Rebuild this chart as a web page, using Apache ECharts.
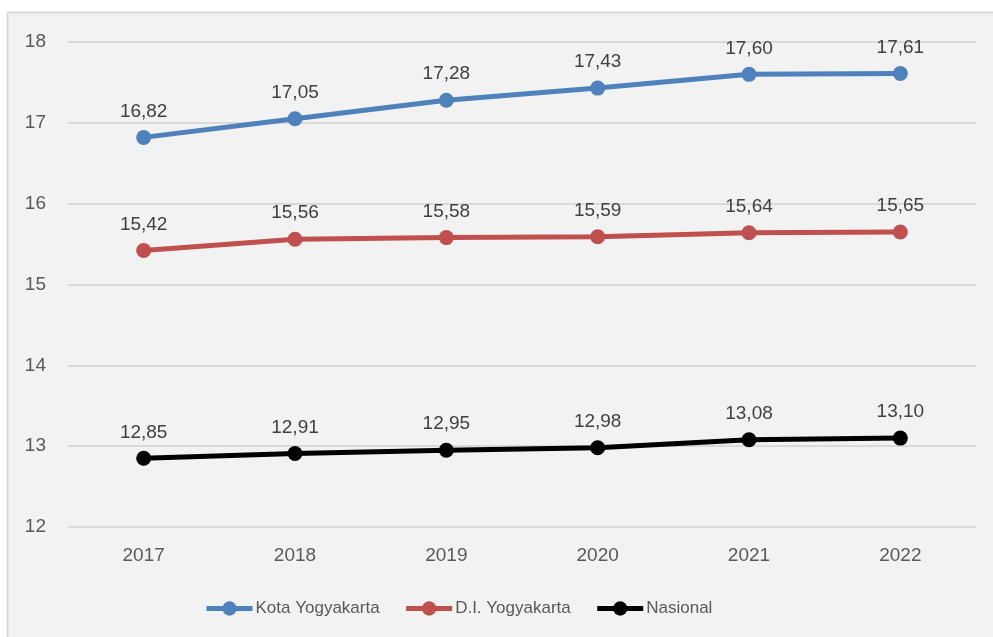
<!DOCTYPE html>
<html><head><meta charset="utf-8">
<script src="https://cdn.jsdelivr.net/npm/echarts@6/dist/echarts.min.js"></script>
<style>html,body{margin:0;padding:0;background:#fff;}#c{width:993px;height:637px;}</style>
</head><body><div id="c"></div>
<script>
const categories = ['2017','2018','2019','2020','2021','2022'];
const kota = [16.82, 17.05, 17.28, 17.43, 17.60, 17.61];
const diy = [15.42, 15.56, 15.58, 15.59, 15.64, 15.65];
const nasional = [12.85, 12.91, 12.95, 12.98, 13.08, 13.10];
const yTicks = [12, 13, 14, 15, 16, 17, 18];

const FONT = '"Liberation Sans Narrow", "Arial Narrow", "Liberation Sans", sans-serif';
const chart = echarts.init(document.getElementById('c'));
function mk(name, data, color) {
  return {
    name, type: 'line', data, color,
    symbol: 'circle', symbolSize: 15,
    lineStyle: { width: 5, color },
    itemStyle: { color },
    label: { show: true, position: 'top', distance: 9, color: '#404040', fontSize: 19, fontFamily: FONT,
      formatter: p => p.value.toFixed(2).replace('.', ',') }
  };
}
chart.setOption({
  animation: false,
  graphic: [{ type: 'rect', z: -10, shape: { x: 7.5, y: 12.5, width: 1000, height: 700 }, style: { fill: '#f2f2f2', stroke: '#d9d9d9', lineWidth: 2 } }],
  grid: { left: 68, right: 17, top: 42, bottom: 110 },
  legend: { bottom: 15, left: 199, itemWidth: 46, itemHeight: 18, itemGap: 24,
    lineStyle: { width: 5 },
    textStyle: { color: '#595959', fontSize: 17, fontFamily: FONT, padding: [0,0,0,-2] } },
  xAxis: { type: 'category', data: categories, boundaryGap: true,
    axisLine: { show: false }, axisTick: { show: false },
    axisLabel: { color: '#595959', fontSize: 19, fontFamily: FONT, margin: 19 } },
  yAxis: { type: 'value', min: yTicks[0], max: yTicks[yTicks.length-1], interval: 1,
    axisLine: { show: false }, axisTick: { show: false },
    axisLabel: { color: '#595959', fontSize: 19, fontFamily: FONT, margin: 22 },
    splitLine: { lineStyle: { color: '#d9d9d9', width: 2 } } },
  series: [mk('Kota Yogyakarta', kota, '#4f81bd'), mk('D.I. Yogyakarta', diy, '#c0504d'), mk('Nasional', nasional, '#000000')]
});
</script></body></html>
